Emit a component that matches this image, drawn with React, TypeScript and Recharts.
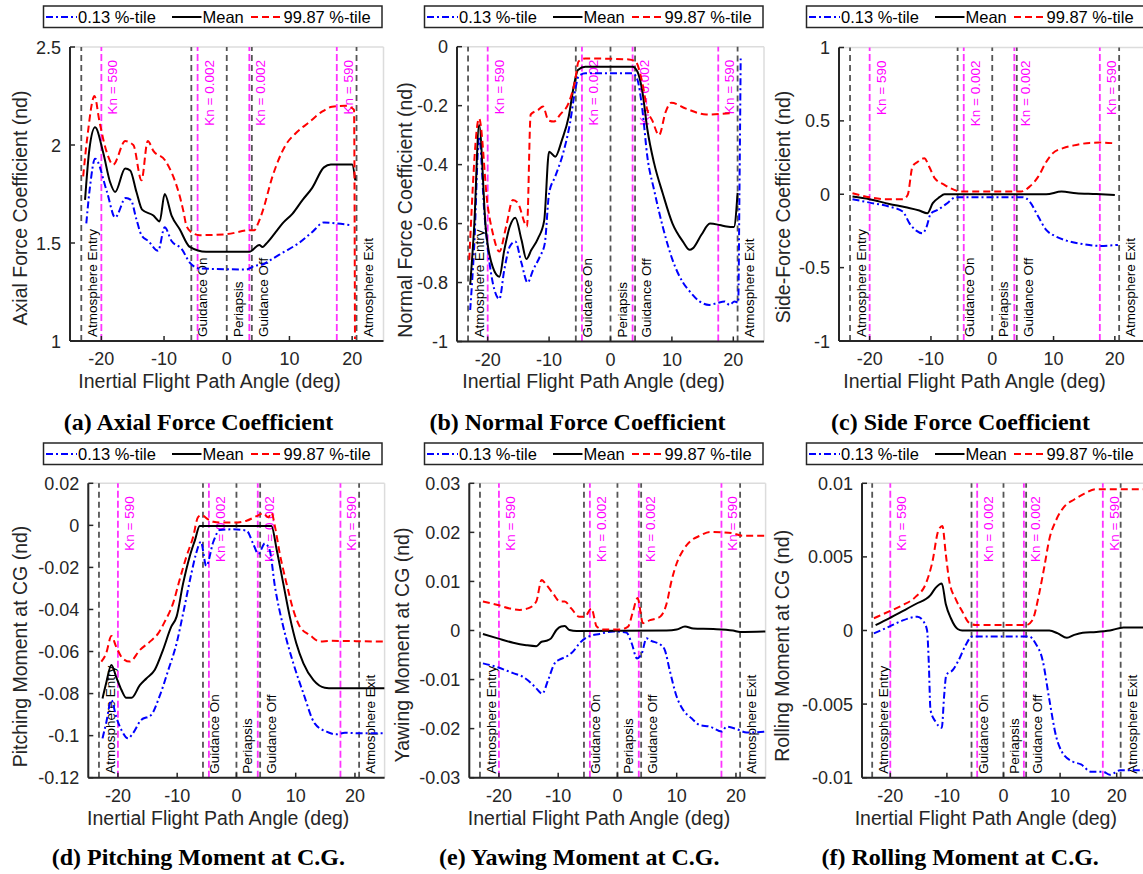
import React from 'react';
import { LineChart, Line, XAxis, YAxis, CartesianGrid, ReferenceLine } from 'recharts';

type Pt = [number, number];

const SANS = '"Liberation Sans", Arial, Helvetica, sans-serif';
const SERIF = '"Liberation Serif", "Times New Roman", serif';
const TEXT = '#262626';

// shared x axis and event markers
const xTicks = [-20, -10, 0, 10, 20];
const eventX = [-23.2, -5.65, 0, 4.0, 20.7];
const eventNames = ['Atmosphere Entry', 'Guidance On', 'Periapsis', 'Guidance Off', 'Atmosphere Exit'];
const knX = [-20, -4.65, 3.6, 17.55];
const knNames = ['Kn = 590', 'Kn = 0.002', 'Kn = 0.002', 'Kn = 590'];
const legendNames = ['0.13 %-tile', 'Mean', '99.87 %-tile'];
const xTitle = 'Inertial Flight Path Angle (deg)';

// (a) axial force coefficient
const axialTicks = [1, 1.5, 2, 2.5];
const axialLow: Pt[] = [[-22.4, 1.6], [-21.8, 1.79], [-21.0, 1.93], [-19.1, 1.76], [-17.8, 1.63], [-16.1, 1.73], [-15.3, 1.72], [-14.4, 1.62], [-13.6, 1.54], [-12.5, 1.51], [-10.95, 1.46], [-9.9, 1.58], [-8.8, 1.51], [-7.2, 1.47], [-5.9, 1.4], [-4.3, 1.37], [3.1, 1.365], [4.6, 1.385], [5.7, 1.39], [6.8, 1.41], [8.9, 1.45], [11.5, 1.5], [13.6, 1.555], [15.5, 1.605], [17.4, 1.6], [20.0, 1.59]];
const axialMean: Pt[] = [[-22.6, 1.72], [-21.9, 1.98], [-21.0, 2.09], [-19.7, 1.96], [-18.6, 1.81], [-17.8, 1.76], [-16.2, 1.88], [-15.4, 1.87], [-14.4, 1.76], [-13.5, 1.67], [-11.7, 1.64], [-10.7, 1.61], [-9.9, 1.75], [-8.8, 1.64], [-7.5, 1.57], [-5.9, 1.48], [-3.3, 1.455], [3.6, 1.455], [5.2, 1.49], [5.7, 1.48], [6.25, 1.495], [7.8, 1.555], [8.9, 1.6], [10.5, 1.65], [12.1, 1.72], [13.6, 1.78], [15.5, 1.886], [16.6, 1.9], [20.0, 1.9], [20.5, 1.82]];
const axialHigh: Pt[] = [[-22.9, 1.84], [-22.2, 2.05], [-21.1, 2.25], [-20.3, 2.12], [-19.3, 1.98], [-18.1, 1.9], [-16.2, 2.02], [-14.9, 2.0], [-13.6, 1.82], [-12.6, 2.02], [-11.7, 1.97], [-9.8, 1.92], [-6.9, 1.66], [-6.45, 1.59], [-5.65, 1.555], [-4.3, 1.54], [0, 1.545], [3.6, 1.565], [4.4, 1.565], [5.0, 1.6], [5.7, 1.66], [7.3, 1.84], [9.4, 2.0], [11.0, 2.06], [13.1, 2.115], [15.2, 2.17], [16.8, 2.195], [18.9, 2.2], [20.3, 2.18], [20.45, 1.01]];

// (b) normal force coefficient
const normalTicks = [-1, -0.8, -0.6, -0.4, -0.2, 0];
const normalLow: Pt[] = [[-22.85, -0.893], [-22.2, -0.678], [-21.4, -0.305], [-20.5, -0.576], [-19.7, -0.734], [-18.9, -0.825], [-18.1, -0.856], [-17.3, -0.757], [-16.4, -0.678], [-15.5, -0.661], [-14.5, -0.734], [-13.5, -0.8], [-12.6, -0.757], [-11.5, -0.712], [-10.7, -0.667], [-10.0, -0.497], [-9.0, -0.44], [-7.7, -0.36], [-6.6, -0.26], [-5.75, -0.147], [-5.2, -0.1], [-4.1, -0.09], [3.6, -0.09], [4.4, -0.113], [5.2, -0.215], [6.0, -0.373], [7.1, -0.486], [8.5, -0.61], [10.1, -0.723], [11.8, -0.8], [12.9, -0.83], [14.5, -0.864], [16.1, -0.876], [17.3, -0.87], [18.6, -0.864], [19.4, -0.876], [20.2, -0.864], [20.8, -0.868], [21.0, -0.5], [21.2, -0.04]];
const normalMean: Pt[] = [[-22.85, -0.808], [-22.2, -0.61], [-21.4, -0.266], [-20.3, -0.62], [-19.2, -0.746], [-18.1, -0.78], [-17.3, -0.69], [-16.4, -0.61], [-15.5, -0.58], [-14.5, -0.655], [-13.7, -0.72], [-12.9, -0.69], [-11.8, -0.65], [-10.8, -0.59], [-10.0, -0.356], [-9.0, -0.373], [-7.9, -0.316], [-6.8, -0.237], [-6.0, -0.136], [-5.3, -0.079], [-4.1, -0.068], [3.6, -0.068], [4.4, -0.085], [5.2, -0.153], [6.0, -0.28], [7.1, -0.395], [8.5, -0.497], [10.1, -0.6], [11.8, -0.661], [12.9, -0.689], [13.4, -0.684], [14.8, -0.638], [16.2, -0.6], [17.8, -0.605], [18.9, -0.61], [20.1, -0.612], [20.7, -0.496]];
const normalHigh: Pt[] = [[-23.0, -0.723], [-21.4, -0.243], [-20.0, -0.54], [-19.2, -0.63], [-18.1, -0.695], [-17.0, -0.61], [-15.9, -0.52], [-15.1, -0.53], [-13.6, -0.61], [-13.0, -0.23], [-11.8, -0.215], [-11.0, -0.203], [-10.1, -0.25], [-9.2, -0.254], [-8.2, -0.23], [-6.8, -0.19], [-5.75, -0.113], [-5.2, -0.05], [-4.1, -0.04], [3.0, -0.043], [4.1, -0.051], [5.2, -0.124], [6.0, -0.215], [6.8, -0.25], [7.9, -0.3], [9.0, -0.22], [9.9, -0.19], [12.3, -0.21], [15.6, -0.23], [19.5, -0.226]];

// (c) side force coefficient
const sideTicks = [-1, -0.5, 0, 0.5, 1];
const sideLow: Pt[] = [[-22.8, -0.034], [-20, -0.057], [-16.8, -0.084], [-14.6, -0.118], [-13.5, -0.198], [-12.4, -0.248], [-11.4, -0.266], [-10.8, -0.232], [-10.0, -0.13], [-8.9, -0.107], [-7.5, -0.066], [-5.9, -0.02], [5.0, -0.02], [6.1, -0.05], [7.5, -0.152], [8.8, -0.243], [10.2, -0.284], [12.1, -0.316], [14.8, -0.34], [17.5, -0.352], [20.5, -0.345]];
const sideMean: Pt[] = [[-22.8, -0.016], [-20, -0.034], [-16.8, -0.066], [-14.1, -0.089], [-11.9, -0.111], [-10.6, -0.13], [-9.7, -0.061], [-8.6, -0.02], [-7.8, 0], [8.8, 0], [11.3, 0.018], [13.7, 0.007], [17.0, 0.002], [20, -0.005]];
const sideHigh: Pt[] = [[-22.8, 0.007], [-20.05, -0.02], [-17.3, -0.034], [-14.6, -0.034], [-13.8, -0.005], [-13.0, 0.19], [-12.2, 0.22], [-11.1, 0.245], [-10.2, 0.18], [-9.4, 0.11], [-7.8, 0.064], [-6.2, 0.03], [-5.1, 0.018], [4.7, 0.018], [6.1, 0.052], [7.5, 0.12], [8.8, 0.22], [9.9, 0.28], [11.55, 0.314], [13.7, 0.336], [15.9, 0.35], [17.5, 0.352], [19.7, 0.348]];

// (d) pitching moment
const pitchTicks = [-0.12, -0.1, -0.08, -0.06, -0.04, -0.02, 0, 0.02];
const pitchLow: Pt[] = [[-22.6, -0.1013], [-22.0, -0.0942], [-21.1, -0.0831], [-20.3, -0.091], [-19.4, -0.0974], [-18.3, -0.1013], [-17.5, -0.099], [-16.1, -0.0926], [-14.4, -0.0902], [-13.0, -0.0815], [-11.5, -0.0688], [-10.1, -0.0561], [-9.0, -0.0419], [-7.6, -0.0228], [-6.8, -0.0133], [-6.0, -0.0078], [-5.1, -0.0193], [-3.9, -0.0078], [-2.8, -0.0022], [-0.6, -0.0019], [1.7, -0.0025], [2.8, -0.0086], [3.7, -0.0136], [4.8, -0.0086], [5.6, -0.0117], [6.5, -0.0292], [7.9, -0.0482], [9.6, -0.0656], [11.3, -0.0799], [13.2, -0.0942], [15.2, -0.0981], [16.9, -0.0994], [18.3, -0.0986], [20.8, -0.0989], [25, -0.0989]];
const pitchMean: Pt[] = [[-22.6, -0.0823], [-22.0, -0.0752], [-21.1, -0.0664], [-20.3, -0.072], [-19.4, -0.0783], [-18.6, -0.082], [-17.7, -0.082], [-16.3, -0.076], [-15.2, -0.0728], [-13.8, -0.0688], [-12.4, -0.0593], [-11.0, -0.0482], [-10.1, -0.0434], [-9.0, -0.0276], [-7.9, -0.0149], [-7.0, -0.007], [-6.2, -0.0003], [5.9, -0.0003], [6.8, -0.0117], [7.9, -0.0276], [9.0, -0.0434], [10.1, -0.0561], [11.3, -0.0656], [13.0, -0.0736], [14.9, -0.0772], [16.3, -0.0775], [25, -0.0775]];
const pitchHigh: Pt[] = [[-22.8, -0.0648], [-22.0, -0.061], [-21.1, -0.0526], [-20.3, -0.0577], [-19.2, -0.0633], [-18.0, -0.0648], [-16.3, -0.0593], [-14.6, -0.0553], [-13.2, -0.0514], [-12.1, -0.0458], [-10.7, -0.0371], [-9.6, -0.026], [-8.45, -0.0149], [-7.3, -0.0054], [-6.5, 0.0038], [-5.9, 0.0049], [-4.8, 0.0029], [-3.9, 0.0017], [-2.8, 0.0013], [-0.6, 0.0013], [1.7, 0.0022], [3.4, 0.0044], [4.5, 0.0057], [5.4, 0.0038], [5.9, 0.006], [6.5, -0.0006], [7.3, -0.0133], [8.45, -0.0276], [9.6, -0.0403], [10.7, -0.0482], [12.4, -0.0522], [14.1, -0.0553], [15.8, -0.0549], [18.6, -0.055], [25, -0.0553]];

// (e) yawing moment
const yawTicks = [-0.03, -0.02, -0.01, 0, 0.01, 0.02, 0.03];
const yawLow: Pt[] = [[-22.7, -0.0067], [-20.2, -0.0075], [-17.6, -0.0087], [-16.0, -0.0094], [-14.5, -0.0108], [-13.7, -0.0118], [-12.7, -0.0129], [-11.7, -0.0101], [-10.6, -0.0067], [-9.7, -0.0059], [-8.6, -0.0053], [-7.5, -0.0043], [-6.4, -0.0026], [-5.0, -0.0013], [-3.0, -0.0007], [-0.7, -0.0002], [1.5, -0.0004], [2.4, -0.0026], [3.3, -0.0057], [4.1, -0.0047], [4.9, -0.0016], [5.7, -0.0021], [7.4, -0.003], [8.0, -0.004], [8.8, -0.008], [10.0, -0.0135], [11.1, -0.0162], [12.5, -0.0179], [13.9, -0.0193], [15.6, -0.0196], [17.6, -0.0206], [18.4, -0.0196], [20.1, -0.0201], [21.8, -0.0208], [25, -0.0206]];
const yawMean: Pt[] = [[-22.7, -0.0007], [-20.2, -0.0016], [-17.6, -0.0025], [-15.4, -0.003], [-13.7, -0.0032], [-12.8, -0.0023], [-12.0, -0.0021], [-11.2, -0.0016], [-10.3, 0.0001], [-9.5, 0.0008], [-8.9, 0.0009], [-8.1, 0.0001], [-6.9, -0.0001], [8.3, 0], [10.0, 0.0002], [11.4, 0.0008], [12.8, 0.0004], [16.2, 0.0003], [19.5, 0], [20.7, -0.0003], [25, -0.0002]];
const yawHigh: Pt[] = [[-22.7, 0.0059], [-20.2, 0.0052], [-18.2, 0.0045], [-16.5, 0.0042], [-15.1, 0.0045], [-13.7, 0.0059], [-12.8, 0.0103], [-12.0, 0.0093], [-10.9, 0.0076], [-9.7, 0.0059], [-8.9, 0.0059], [-7.8, 0.0045], [-6.4, 0.0028], [-5.5, 0.0028], [-4.4, 0.0045], [-3.5, 0.0008], [-2.4, 0.0002], [0.4, 0.0002], [1.8, 0.0008], [2.6, 0.0038], [3.4, 0.0066], [4.3, 0.0015], [5.5, 0.0021], [7.2, 0.0028], [8.3, 0.0055], [9.1, 0.01], [10.0, 0.0137], [11.1, 0.0164], [12.5, 0.0184], [13.9, 0.0193], [15.6, 0.0201], [17.9, 0.02], [19.5, 0.0198], [21.2, 0.0193], [25, 0.0193]];

// (f) rolling moment
const rollTicks = [-0.01, -0.005, 0, 0.005, 0.01];
const rollLow: Pt[] = [[-22.9, -0.0002], [-20.2, 0.00026], [-17.9, 0.00067], [-15.2, 0.00094], [-14.1, 0.0006], [-13.5, 0], [-13.2, -0.0022], [-12.9, -0.0054], [-12.0, -0.0062], [-10.9, -0.0066], [-10.5, -0.0045], [-10.1, -0.003], [-9.0, -0.0027], [-7.9, -0.002], [-6.7, -0.001], [-5.5, -0.0004], [4.5, -0.0004], [5.7, -0.0009], [6.9, -0.002], [8.1, -0.0047], [9.3, -0.0072], [10.4, -0.0083], [12.2, -0.0089], [13.7, -0.0091], [15.5, -0.0096], [17.6, -0.0096], [18.8, -0.0098], [20.6, -0.0095], [25, -0.0095]];
const rollMean: Pt[] = [[-22.6, 0.00037], [-20.2, 0.00083], [-17.9, 0.0013], [-15.5, 0.0018], [-12.9, 0.0024], [-12.0, 0.0029], [-10.9, 0.0032], [-10.2, 0.0018], [-9.3, 0.00083], [-8.1, 0.0001], [-7.3, 0], [8.1, 0], [9.6, -0.0002], [11.2, -0.0005], [12.5, -0.0003], [14.0, -0.00015], [16.4, -0.0001], [18.8, 0], [21.2, 0.0002], [25, 0.0002]];
const rollHigh: Pt[] = [[-22.9, 0.00083], [-20.2, 0.0013], [-17.9, 0.0017], [-15.5, 0.0023], [-13.7, 0.0032], [-12.6, 0.0046], [-11.5, 0.0068], [-10.8, 0.0071], [-10.2, 0.0052], [-9.6, 0.0034], [-8.4, 0.0021], [-7.3, 0.0013], [-6.1, 0.00053], [-4.9, 0.00037], [4.0, 0.00037], [5.1, 0.0007], [6.3, 0.0025], [7.2, 0.0043], [8.1, 0.0062], [9.3, 0.0075], [10.7, 0.0084], [12.5, 0.0089], [14.3, 0.0093], [16.4, 0.0096], [19.9, 0.0096], [25, 0.0096]];

const fmt = (v: number) => String(parseFloat(v.toFixed(4)));
const toData = (pts: Pt[]) => pts.map(([x, y]) => ({ x, y }));

const TICK_IN = 5;

const XTick = (props: any) => {
  const { x, y, payload } = props;
  return (
    <text x={x} y={y + TICK_IN + 24} textAnchor="middle" fill={TEXT} fontSize={18} fontFamily={SANS}>
      {fmt(payload.value)}
    </text>
  );
};

const YTick = (props: any) => {
  const { x, y, payload } = props;
  return (
    <text x={x - TICK_IN - 9} y={y + 6.5} textAnchor="end" fill={TEXT} fontSize={18} fontFamily={SANS}>
      {fmt(payload.value)}
    </text>
  );
};

const markLabel = (text: string, color: string, atTop: boolean) => (props: any) => {
  const vb = props.viewBox || { x: 0, y: 0, width: 0, height: 0 };
  const x = vb.x + 16;
  const y = atTop ? vb.y + 13 : vb.y + vb.height - 4;
  return (
    <text
      x={x}
      y={y}
      transform={`rotate(-90 ${x} ${y})`}
      textAnchor={atTop ? 'end' : 'start'}
      fill={color}
      style={{ fontSize: '13.5px', fontFamily: SANS }}
    >
      {text}
    </text>
  );
};

interface PanelProps {
  left: number;
  top: number;
  plotLeft: number;
  plotRight: number;
  plotTop: number;
  plotBottom: number;
  yTicks: number[];
  low: Pt[];
  mean: Pt[];
  high: Pt[];
}

const Panel: React.FC<PanelProps> = ({ left, top, plotLeft, plotRight, plotTop, plotBottom, yTicks, low, mean, high }) => {
  const width = plotRight - left + 4;
  const height = plotBottom - top + 34;
  const yDomain = [yTicks[0], yTicks[yTicks.length - 1]];
  const axisStyle = { stroke: '#262626', strokeWidth: 2 };
  const tickStyle = { stroke: '#262626', strokeWidth: 1.5 };
  return (
    <div style={{ position: 'absolute', left, top, width, height }}>
      <LineChart width={width} height={height} margin={{ top: plotTop - top, right: 4, left: 0, bottom: 0 }}>
        <CartesianGrid stroke="#dcdcdc" strokeWidth={1.5} />
        <XAxis
          xAxisId="b"
          type="number"
          dataKey="x"
          domain={[-25, 25]}
          ticks={xTicks}
          allowDataOverflow
          height={34}
          tickSize={-TICK_IN}
          tickMargin={0}
          axisLine={axisStyle}
          tickLine={tickStyle}
          tick={<XTick />}
        />
        <XAxis
          xAxisId="t"
          orientation="top"
          type="number"
          dataKey="x"
          domain={[-25, 25]}
          ticks={xTicks}
          allowDataOverflow
          height={0}
          tickSize={-TICK_IN}
          axisLine={axisStyle}
          tickLine={tickStyle}
          tick={false}
        />
        <YAxis
          yAxisId="l"
          type="number"
          domain={yDomain}
          ticks={yTicks}
          allowDataOverflow
          width={plotLeft - left}
          tickSize={-TICK_IN}
          tickMargin={0}
          axisLine={axisStyle}
          tickLine={tickStyle}
          tick={<YTick />}
        />
        <YAxis
          yAxisId="r"
          orientation="right"
          type="number"
          domain={yDomain}
          ticks={yTicks}
          allowDataOverflow
          width={0}
          tickSize={-TICK_IN}
          axisLine={axisStyle}
          tickLine={tickStyle}
          tick={false}
        />
        {eventX.map((ex, i) => (
          <ReferenceLine
            key={`e${i}`}
            xAxisId="b"
            yAxisId="l"
            x={ex}
            stroke="#555555"
            strokeWidth={1.8}
            strokeDasharray="6 4"
            label={markLabel(eventNames[i], '#000', false)}
          />
        ))}
        {knX.map((kx, i) => (
          <ReferenceLine
            key={`k${i}`}
            xAxisId="b"
            yAxisId="l"
            x={kx}
            stroke="#ff33ff"
            strokeWidth={1.8}
            strokeDasharray="7 3"
            label={markLabel(knNames[i], '#ff00ff', true)}
          />
        ))}
        <Line xAxisId="b" yAxisId="l" data={toData(low)} dataKey="y" type="monotone" stroke="#0000ff" strokeWidth={2} strokeDasharray="7 3 2 3" dot={false} isAnimationActive={false} />
        <Line xAxisId="b" yAxisId="l" data={toData(mean)} dataKey="y" type="monotone" stroke="#000000" strokeWidth={2} dot={false} isAnimationActive={false} />
        <Line xAxisId="b" yAxisId="l" data={toData(high)} dataKey="y" type="monotone" stroke="#ff0000" strokeWidth={2} strokeDasharray="7 4" dot={false} isAnimationActive={false} />
      </LineChart>
    </div>
  );
};

const LegendBox: React.FC<{ x: number; y: number }> = ({ x, y }) => (
  <g transform={`translate(${x} ${y})`}>
    <rect x={0} y={0} width={338.5} height={21.5} fill="#fff" stroke="#262626" strokeWidth={1.5} />
    <line x1={2.5} x2={33.5} y1={11} y2={11} stroke="#0000ff" strokeWidth={2} strokeDasharray="7 3 2 3" />
    <text x={34.5} y={16.7} fontSize={16.5} fontFamily={SANS} fill="#000">{legendNames[0]}</text>
    <line x1={128.5} x2={158} y1={11} y2={11} stroke="#000" strokeWidth={2} />
    <text x={159} y={16.7} fontSize={16.5} fontFamily={SANS} fill="#000">{legendNames[1]}</text>
    <line x1={207.5} x2={239.5} y1={11} y2={11} stroke="#ff0000" strokeWidth={2} strokeDasharray="7 4" />
    <text x={240} y={16.7} fontSize={16.5} fontFamily={SANS} fill="#000">{legendNames[2]}</text>
  </g>
);

const YTitle: React.FC<{ x: number; y: number; text: string }> = ({ x, y, text }) => (
  <text x={x} y={y} transform={`rotate(-90 ${x} ${y})`} textAnchor="middle" fontSize={19.5} fontFamily={SANS} fill={TEXT}>
    {text}
  </text>
);

const XTitle: React.FC<{ x: number; y: number }> = ({ x, y }) => (
  <text x={x} y={y} textAnchor="middle" fontSize={19.5} fontFamily={SANS} fill={TEXT}>
    {xTitle}
  </text>
);

const Caption: React.FC<{ x: number; y: number; text: string }> = ({ x, y, text }) => (
  <text x={x} y={y} textAnchor="middle" fontSize={24} fontWeight="bold" fontFamily={SERIF} fill="#000">
    {text}
  </text>
);

const App: React.FC = () => {
  return (
    <div style={{ position: 'absolute', left: 0, top: 0, width: 1143, height: 874, overflow: 'hidden', background: '#fff' }}>
      <Panel left={0} top={0} plotLeft={70} plotRight={383.5} plotTop={47} plotBottom={341} yTicks={axialTicks} low={axialLow} mean={axialMean} high={axialHigh} />
      <Panel left={381} top={0} plotLeft={457} plotRight={764} plotTop={46.7} plotBottom={341.5} yTicks={normalTicks} low={normalLow} mean={normalMean} high={normalHigh} />
      <Panel left={763} top={0} plotLeft={839} plotRight={1145.5} plotTop={47.5} plotBottom={341} yTicks={sideTicks} low={sideLow} mean={sideMean} high={sideHigh} />
      <Panel left={0} top={437} plotLeft={88.3} plotRight={384.6} plotTop={483.3} plotBottom={777.7} yTicks={pitchTicks} low={pitchLow} mean={pitchMean} high={pitchHigh} />
      <Panel left={381} top={437} plotLeft={469.3} plotRight={765.6} plotTop={483.3} plotBottom={777.7} yTicks={yawTicks} low={yawLow} mean={yawMean} high={yawHigh} />
      <Panel left={763} top={437} plotLeft={862} plotRight={1145} plotTop={483.3} plotBottom={777.7} yTicks={rollTicks} low={rollLow} mean={rollMean} high={rollHigh} />
      <svg width={1143} height={874} style={{ position: 'absolute', left: 0, top: 0, pointerEvents: 'none' }}>
        <LegendBox x={43.5} y={6} />
        <LegendBox x={424.5} y={6} />
        <LegendBox x={806.5} y={6} />
        <LegendBox x={43.5} y={443} />
        <LegendBox x={424.5} y={443} />
        <LegendBox x={806.5} y={443} />

        <YTitle x={27} y={208} text="Axial Force Coefficient (nd)" />
        <YTitle x={412} y={210} text="Normal Force Coefficient (nd)" />
        <YTitle x={789.5} y={207} text="Side-Force Coefficient (nd)" />
        <YTitle x={27} y={646.5} text="Pitching Moment at CG (nd)" />
        <YTitle x={408.5} y={645} text="Yawing Moment at CG (nd)" />
        <YTitle x={789.5} y={645.8} text="Rolling Moment at CG (nd)" />

        <XTitle x={209.5} y={388.3} />
        <XTitle x={593.5} y={388.3} />
        <XTitle x={974.5} y={388.3} />
        <XTitle x={218.2} y={824.5} />
        <XTitle x={599} y={824.5} />
        <XTitle x={985.8} y={824.5} />

        <Caption x={198.5} y={430} text="(a) Axial Force Coefficient" />
        <Caption x={577.5} y={430} text="(b) Normal Force Coefficient" />
        <Caption x={960.5} y={430} text="(c) Side Force Coefficient" />
        <Caption x={198.3} y={865} text="(d) Pitching Moment at C.G." />
        <Caption x={579.2} y={865} text="(e) Yawing Moment at C.G." />
        <Caption x={960.2} y={865} text="(f) Rolling Moment at C.G." />
      </svg>
    </div>
  );
};

export default App;
